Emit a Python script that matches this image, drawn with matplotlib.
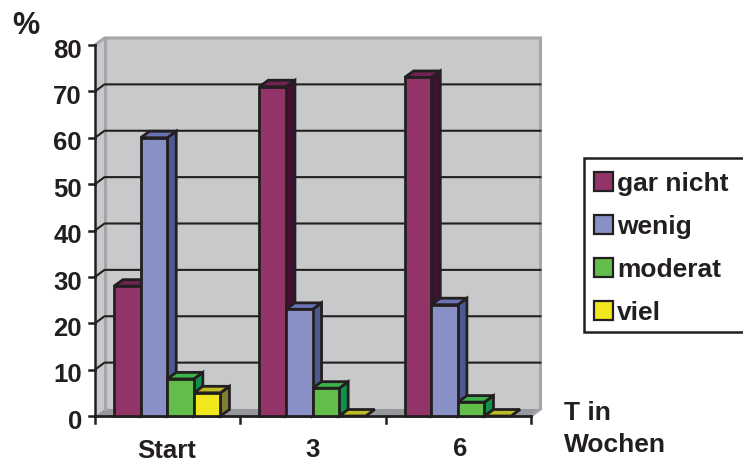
import numpy as np
import matplotlib
matplotlib.use('Agg')
import matplotlib.pyplot as plt
from matplotlib.patches import Polygon, Patch, Rectangle

# percent of patients per symptom grade at each time point
categories = ['Start', '3', '6']
gar_nicht = [28, 71, 73]
wenig = [60, 23, 24]
moderat = [8, 6, 3]
viel = [5, 0, 0]
series_names = ['gar nicht', 'wenig', 'moderat', 'viel']
y_ticks = [0, 10, 20, 30, 40, 50, 60, 70, 80]

# front, top, side colours of each series
front_cols = ['#933468', '#8890C6', '#62BD4A', '#F0E81C']
top_cols = ['#6E2350', '#6A74B4', '#3BB44A', '#BDBB26']
side_cols = ['#420F33', '#4D5A90', '#0F934A', '#7F7F33']
ink = '#231F20'
wall = '#C8C9CB'
floor = '#96989B'
rim = '#A4A6A9'

W, H = 743, 464
plt.rcParams['font.family'] = ['Liberation Sans', 'DejaVu Sans']
plt.rcParams['font.weight'] = 'bold'

fig = plt.figure(figsize=(W / 100, H / 100), dpi=100)
ax = fig.add_axes([95 / W, 1 - 417 / H, 436 / W, 371 / H])
ax.set_xlim(0, 3)
ax.set_ylim(0, 80)
ax.axis('off')

# depth of the 3d box and of the bars, in data units
dx = 9.5 / 145.3
dy = 7 / 46.4 * 10
bar_dx = 9 / 145.3
bar_dy = 6.5 / 46.4 * 10
bar_w = 26.6 / 145.3
offset = 19 / 145.3
lw = 2.0


def poly(pts, fc, ec='none', lw_=0, z=1):
    ax.add_patch(Polygon(pts, closed=True, fc=fc, ec=ec, lw=lw_, zorder=z,
                         clip_on=False, joinstyle='miter'))


# walls and floor
poly([(dx, dy), (3 + dx, dy), (3 + dx, 80 + dy), (dx, 80 + dy)], wall)
poly([(0, 0), (dx, dy), (dx, 80 + dy), (0, 80)], wall)
poly([(0, 0), (3, 0), (3 + dx, dy), (dx, dy)], floor)
ax.plot([0, dx, 3 + dx, 3 + dx, 3], [80, 80 + dy, 80 + dy, dy, 0],
        color=rim, lw=2.2, zorder=2, clip_on=False, solid_joinstyle='miter')
ax.plot([dx, dx], [dy, 80 + dy], color=rim, lw=2.2, zorder=2, clip_on=False)

# gridlines run along the back wall and down the side wall
for t in y_ticks[1:-1]:
    ax.plot([0, dx, 3 + dx], [t, t + dy, t + dy], color=ink, lw=1.5, zorder=3,
            clip_on=False)

# axes with tick marks
ax.plot([0, 0], [0, 80], color=ink, lw=1.8, zorder=8, clip_on=False)
ax.plot([0, 3], [0, 0], color=ink, lw=2.0, zorder=8, clip_on=False)
for t in y_ticks:
    ax.plot([-6 / 145.3, 0], [t, t], color=ink, lw=1.8, zorder=8, clip_on=False)
    ax.text(-13 / 145.3, t - 1.0, str(t), ha='right', va='center', fontsize=18.5,
            color=ink)
for i in range(4):
    ax.plot([i, i], [0, -1.5], color=ink, lw=1.8, zorder=8, clip_on=False)

series = [gar_nicht, wenig, moderat, viel]
for c, label in enumerate(categories):
    for s, vals in enumerate(series):
        v = vals[c]
        x0 = c + offset + s * bar_w
        x1 = x0 + bar_w
        z = 10 + c * 10 + s
        if v > 0:
            poly([(x0, 0), (x1, 0), (x1, v), (x0, v)], front_cols[s], ink, lw, z + 0.3)
            poly([(x1, 0), (x1 + bar_dx, bar_dy), (x1 + bar_dx, v + bar_dy), (x1, v)],
                 side_cols[s], ink, lw, z + 0.1)
        poly([(x0, v), (x1, v), (x1 + bar_dx, v + bar_dy), (x0 + bar_dx, v + bar_dy)],
             top_cols[s], ink, lw, z + 0.2)

# the first category label sits lower than the other two
tick_x = [0.49, 1.5, 2.51]
tick_y = [-7.4, -7.1, -7.0]
for x, y, label in zip(tick_x, tick_y, categories):
    ax.text(x, y, label, ha='center', va='center', fontsize=18.5, color=ink)

fig.text(26 / W, 1 - 26 / H, '%', ha='center', va='center', fontsize=22, color=ink)
fig.text(564 / W, 1 - 413 / H, 'T in', ha='left', va='center', fontsize=19, color=ink)
fig.text(564 / W, 1 - 445 / H, 'Wochen', ha='left', va='center', fontsize=19, color=ink)

# legend frame runs off the right edge, entries are placed inside it
fig.add_artist(Rectangle((584 / W, 1 - 333 / H), 165 / W, 174 / H, transform=fig.transFigure,
                         fc='white', ec=ink, lw=1.8))
handles = [Patch(fc=front_cols[i], ec=ink, lw=1.6, label=series_names[i]) for i in range(4)]
fig.legend(handles=handles, loc='upper left', bbox_to_anchor=(594 / W, 1 - 172.5 / H),
           bbox_transform=fig.transFigure, borderaxespad=0, frameon=False,
           fontsize=19, labelcolor=ink, handlelength=0.72, handleheight=0.72,
           handletextpad=0.15, borderpad=0, labelspacing=0.72)

fig.savefig('out.png', dpi=100)
